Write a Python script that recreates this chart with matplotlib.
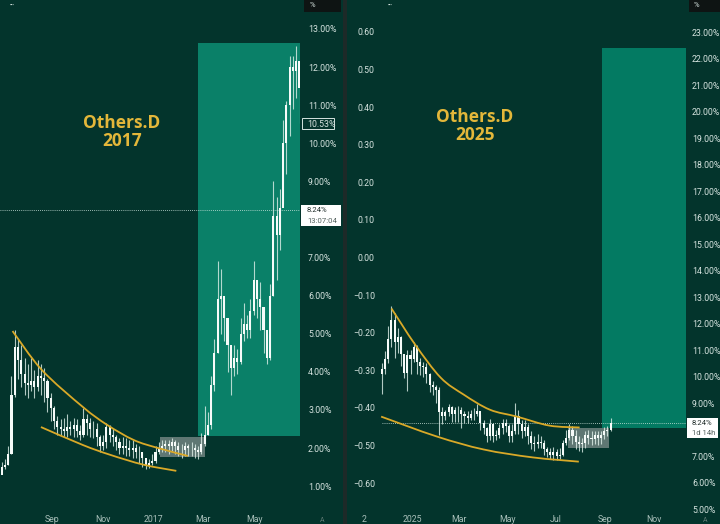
import pandas as pd
import matplotlib
matplotlib.use('Agg')
import matplotlib.dates as mdates
import matplotlib.pyplot as plt
from matplotlib.patches import PathPatch, Rectangle
from matplotlib.path import Path

W, H = 720, 524
BG = '#03342c'
YELLOW = '#d9a928'
TXT = '#d5e3df'
plt.rcParams['font.family'] = ['Roboto', 'DejaVu Sans']

# 2016/17 candles, in %
closes_2017 = [1.50, 1.55, 1.85, 3.40, 4.65, 4.30, 3.95, 3.70, 3.65, 3.75,
               3.60, 3.90, 3.85, 3.75, 3.30, 3.05, 2.70, 2.55, 2.50, 2.45,
               2.55, 2.50, 2.60, 2.45, 2.35, 2.75, 2.65, 2.50, 2.50, 2.30,
               2.05, 2.15, 2.55, 2.35, 2.30, 2.15, 2.00, 2.05, 2.00, 1.95,
               2.00, 1.90, 1.90, 1.75, 1.55, 1.60, 1.65, 1.90, 2.00, 2.05,
               2.10, 2.05, 2.15, 2.05, 1.95, 1.95, 2.05, 2.00, 2.00, 1.95,
               1.90, 2.10, 2.35, 2.60, 3.65, 4.50, 5.90, 6.00, 5.40, 4.70,
               4.10, 4.35, 4.25, 5.00, 5.25, 5.10, 5.60, 6.40, 5.90, 5.70,
               5.10, 4.35, 6.00, 8.10, 7.60, 8.30, 10.00, 11.00, 12.00, 11.90,
               12.15, 11.45]
highs_2017 = [1.62, 1.70, 2.05, 3.90, 5.10, 4.85, 4.70, 4.35, 4.20, 4.35,
              4.05, 4.30, 4.20, 4.10, 3.80, 3.45, 3.10, 2.85, 2.75, 2.80,
              2.90, 2.70, 2.80, 2.75, 2.60, 3.05, 2.90, 2.80, 2.70, 2.65,
              2.35, 2.35, 2.65, 2.60, 2.50, 2.35, 2.25, 2.30, 2.25, 2.20,
              2.20, 2.10, 2.05, 1.90, 1.70, 1.72, 1.85, 2.05, 2.15, 2.20,
              2.20, 2.20, 2.25, 2.20, 2.15, 2.10, 2.15, 2.10, 2.15, 2.10,
              2.05, 2.40, 3.10, 2.95, 3.90, 4.85, 6.90, 6.70, 5.95, 5.10,
              4.60, 4.70, 4.60, 5.40, 5.80, 5.50, 5.90, 6.90, 6.40, 6.35,
              5.70, 5.00, 6.30, 9.00, 8.60, 8.80, 10.60, 11.10, 12.30, 12.30,
              12.55, 12.10]
lows_2017 = [1.42, 1.45, 1.55, 1.85, 3.35, 3.80, 3.60, 3.40, 3.30, 3.50,
             3.30, 3.50, 3.40, 3.20, 2.95, 2.70, 2.50, 2.35, 2.35, 2.30,
             2.30, 2.35, 2.30, 2.30, 2.20, 2.30, 2.35, 2.30, 2.25, 2.05,
             1.90, 1.95, 2.00, 2.15, 2.05, 1.95, 1.85, 1.85, 1.80, 1.80,
             1.75, 1.75, 1.60, 1.50, 1.45, 1.48, 1.55, 1.60, 1.85, 1.90,
             1.90, 1.85, 1.90, 1.85, 1.80, 1.75, 1.80, 1.80, 1.80, 1.75,
             1.72, 1.85, 2.05, 2.35, 2.50, 3.50, 4.50, 5.00, 4.80, 4.00,
             3.40, 3.90, 3.95, 4.20, 4.80, 4.90, 4.90, 5.50, 5.40, 5.10,
             4.50, 4.20, 4.30, 6.00, 6.40, 7.20, 8.40, 9.20, 10.20, 10.90,
             11.20, 10.53]

# 2024/25 candles, in %
closes_2025 = [10.30, 10.65, 11.40, 12.15, 11.30, 11.50, 10.85, 10.15, 10.80, 10.65,
               11.10, 10.55, 10.40, 10.35, 10.10, 9.70, 9.60, 9.50, 8.65, 8.50,
               8.65, 8.85, 8.60, 8.75, 8.75, 8.60, 8.50, 8.45, 8.60, 8.60,
               8.70, 8.25, 8.05, 7.75, 8.20, 7.75, 7.80, 8.05, 8.25, 8.15,
               7.75, 7.95, 8.50, 8.20, 7.95, 8.10, 7.75, 7.50, 7.45, 7.55,
               7.50, 7.25, 7.15, 7.05, 7.15, 7.00, 7.05, 7.50, 7.70, 8.00,
               7.75, 7.55, 7.45, 7.50, 7.80, 7.70, 7.65, 7.80, 7.70, 7.80,
               7.95, 8.00, 8.24]
highs_2025 = [10.50, 10.95, 11.90, 12.65, 12.40, 11.85, 11.55, 10.80, 11.00, 11.00,
              11.30, 11.20, 10.70, 10.55, 10.50, 10.15, 9.85, 9.70, 9.60, 8.85,
              8.75, 8.95, 8.90, 8.85, 8.90, 8.85, 8.70, 8.70, 8.75, 8.80,
              8.95, 8.60, 8.35, 8.10, 8.40, 8.25, 8.00, 8.20, 8.40, 8.40,
              8.20, 8.20, 9.00, 8.75, 8.35, 8.35, 8.20, 7.95, 7.75, 7.85,
              7.75, 7.60, 7.35, 7.30, 7.35, 7.25, 7.30, 7.60, 8.00, 8.20,
              8.15, 8.00, 7.75, 7.70, 7.95, 8.00, 7.95, 7.95, 7.95, 7.95,
              8.10, 8.15, 8.45]
lows_2025 = [9.35, 10.10, 10.50, 11.10, 10.70, 10.90, 10.40, 9.95, 9.45, 10.10,
             10.55, 10.10, 10.05, 10.00, 9.75, 9.40, 9.30, 9.00, 7.80, 8.20,
             8.35, 8.50, 8.30, 8.30, 8.30, 8.05, 8.25, 8.25, 8.35, 8.35,
             8.50, 8.00, 7.85, 7.55, 7.60, 7.55, 7.60, 7.70, 7.85, 7.90,
             7.55, 7.55, 7.85, 7.85, 7.70, 7.75, 7.45, 7.25, 7.20, 7.30,
             7.30, 7.05, 6.95, 6.90, 6.85, 6.85, 6.90, 7.00, 7.40, 7.60,
             7.45, 7.25, 7.20, 7.15, 7.30, 7.45, 7.40, 7.45, 7.40, 7.45,
             7.65, 7.75, 7.95]

# drawn trend lines
upper_2017_dates = ['2016-07-16', '2016-08-20', '2016-10-08', '2016-11-06', '2016-12-08', '2017-01-06', '2017-02-11']
upper_2017_vals = [5.07, 4.05, 3.08, 2.61, 2.21, 2.00, 1.79]
lower_2017_dates = ['2016-08-19', '2016-10-08', '2016-11-10', '2016-12-20', '2017-01-28']
lower_2017_vals = [2.55, 2.08, 1.82, 1.56, 1.40]
upper_2025_dates = ['2024-12-06', '2025-01-05', '2025-02-06', '2025-03-07', '2025-04-09', '2025-05-13', '2025-06-23', '2025-07-31']
upper_2025_vals = [12.57, 11.20, 9.96, 9.32, 8.75, 8.49, 8.15, 8.08]
lower_2025_dates = ['2024-11-23', '2025-02-01', '2025-04-01', '2025-06-02', '2025-07-30']
lower_2025_vals = [8.49, 7.74, 7.25, 6.95, 6.79]

month_ticks_2017 = ['2016-09-01', '2016-11-01', '2017-01-01', '2017-03-01', '2017-05-01']
month_labels_2017 = ['Sep', 'Nov', '2017', 'Mar', 'May']
month_ticks_2025 = ['2024-11-01', '2025-01-01', '2025-03-01', '2025-05-01', '2025-07-01', '2025-09-01', '2025-11-01']
month_labels_2025 = ['2', '2025', 'Mar', 'May', 'Jul', 'Sep', 'Nov']
# 8.00% is hidden behind the price box in both panels
pct_ticks_2017 = [1, 2, 3, 4, 5, 6, 7, 9, 10, 11, 12, 13]
pct_ticks_2025 = [5, 6, 7, 9, 10, 11, 12, 13, 14, 15, 16, 17, 18, 19, 20, 21, 22, 23]
left_ticks_2025 = [0.60, 0.50, 0.40, 0.30, 0.20, 0.10, 0.00, -0.10, -0.20, -0.30, -0.40, -0.50, -0.60]


def px_axes(x0, y0, x1, y1):
    return fig.add_axes([x0 / W, 1 - y1 / H, (x1 - x0) / W, (y1 - y0) / H])


def px_box(x0, y0, x1, y1, **kw):
    fig.patches.append(Rectangle((x0 / W, 1 - y1 / H), (x1 - x0) / W, (y1 - y0) / H,
                                 transform=fig.transFigure, **kw))


def px_text(x, y, s, **kw):
    kw.setdefault('va', 'center')
    fig.text(x / W, 1 - y / H, s, **kw)


def candles(ax, dates, closes, highs, lows, width):
    opens = [closes[0] - 0.2] + closes[:-1]
    ax.vlines(dates, lows, highs, color='#dff0ea', lw=0.8, alpha=0.8, zorder=4)
    ax.bar(dates, [abs(c - o) for o, c in zip(opens, closes)],
           bottom=[min(o, c) for o, c in zip(opens, closes)],
           width=width, color='#f6fbf9', lw=0, zorder=5)


def trend(ax, dates, vals):
    # catmull-rom through the points
    xs = [mdates.date2num(pd.Timestamp(d)) for d in dates]
    pts = list(zip(xs, vals))
    verts, codes = [pts[0]], [Path.MOVETO]
    for i in range(len(pts) - 1):
        p0 = pts[max(i - 1, 0)]
        p1, p2 = pts[i], pts[i + 1]
        p3 = pts[min(i + 2, len(pts) - 1)]
        c1 = (p1[0] + (p2[0] - p0[0]) / 6, p1[1] + (p2[1] - p0[1]) / 6)
        c2 = (p2[0] - (p3[0] - p1[0]) / 6, p2[1] - (p3[1] - p1[1]) / 6)
        verts += [c1, c2, p2]
        codes += [Path.CURVE4] * 3
    ax.add_patch(PathPatch(Path(verts, codes), fill=False, edgecolor=YELLOW, lw=1.3, zorder=6))


def style(ax, month_ticks, month_labels, pct_ticks, pad):
    ax.set_facecolor('none')
    for s in ax.spines.values():
        s.set_visible(False)
    ax.set_xticks(pd.to_datetime(month_ticks))
    ax.set_xticklabels(month_labels, va='baseline')
    ax.yaxis.tick_right()
    ax.set_yticks(pct_ticks)
    ax.set_yticklabels([f'{v:.2f}%' for v in pct_ticks])
    ax.tick_params(axis='y', length=0, pad=pad, labelsize=6.3, labelcolor=TXT)
    ax.tick_params(axis='x', length=0, pad=7.5, labelsize=6.3, labelcolor='#a9c0ba')


fig = plt.figure(figsize=(W / 100, H / 100), dpi=100, facecolor=BG)
px_box(343, 0, 347, H, color='#1d2a28', lw=0)

# left panel
ax1 = px_axes(0, 0, 300, 512)
ax1.set_xlim(pd.Timestamp('2016-07-01'), pd.Timestamp('2017-06-25'))
ax1.set_ylim(0.32, 13.76)
style(ax1, month_ticks_2017, month_labels_2017, pct_ticks_2017, 5.8)
dates_2017 = pd.date_range('2016-07-03', periods=len(closes_2017), freq='94h')
ax1.fill_between(pd.to_datetime(['2017-02-23', '2017-06-25']), 2.31, 12.63, color='#0a8068', lw=0, zorder=1)
ax1.fill_between(pd.to_datetime(['2017-01-09', '2017-03-03']), 1.77, 2.30, color='#7f8f8c', alpha=0.75, lw=0, zorder=2)
candles(ax1, dates_2017, closes_2017, highs_2017, lows_2017, 2.5)
trend(ax1, upper_2017_dates, upper_2017_vals)
trend(ax1, lower_2017_dates, lower_2017_vals)
ax1.axhline(8.24, color='#cfe6df', lw=0.6, ls=(0, (1, 1.5)), zorder=3)

# right panel
ax2 = px_axes(347, 0, 686, 512)
ax2.set_xlim(pd.Timestamp('2024-10-11'), pd.Timestamp('2025-12-12'))
ax2.set_ylim(4.89, 24.21)
# the second price scale sits inside the right panel
ax2b = ax2.twinx()
style(ax2, month_ticks_2025, month_labels_2025, pct_ticks_2025, 4.3)
dates_2025 = pd.date_range('2024-11-24', periods=len(closes_2025), freq='4D')
ax2.fill_between(pd.to_datetime(['2025-08-28', '2025-12-12']), 8.07, 22.40, color='#037a62', lw=0, zorder=1)
ax2.fill_between(pd.to_datetime(['2025-07-16', '2025-09-06']), 7.30, 8.07, color='#7f8f8c', alpha=0.75, lw=0, zorder=2)
candles(ax2, dates_2025, closes_2025, highs_2025, lows_2025, 2.6)
trend(ax2, upper_2025_dates, upper_2025_vals)
trend(ax2, lower_2025_dates, lower_2025_vals)
ax2.hlines(8.24, dates_2025[0], pd.Timestamp('2025-12-12'), color='#cfe6df', lw=0.6, ls=(0, (1, 1.5)), zorder=3)

ax2b.set_ylim(-0.677, 0.685)
for s in ax2b.spines.values():
    s.set_visible(False)
ax2b.yaxis.tick_left()
ax2b.set_yticks(left_ticks_2025)
ax2b.set_yticklabels([f'{v:.2f}'.replace('-', '\u2212') for v in left_ticks_2025])
ax2b.tick_params(axis='y', length=0, pad=-20, labelsize=6.3, labelcolor=TXT)

# titles
px_text(122, 132.5, 'Others.D\n2017', color='#e3b73a', fontsize=12.5, weight='bold',
        family='Open Sans', ha='center', linespacing=1.0)
px_text(475, 126, 'Others.D\n2025', color='#e3b73a', fontsize=12.5, weight='bold',
        family='Open Sans', ha='center', linespacing=1.0)

# chart chrome
for x0, x1 in [(304, 341), (689, 720)]:
    px_box(x0, 0, x1, 12, color='#0e1413', lw=0)
px_text(310, 5, '%', color=TXT, fontsize=5.5)
px_text(694, 5, '%', color=TXT, fontsize=5.5)
px_text(12, 5, '\u2022\u2022\u2022', color=TXT, fontsize=3.5, ha='center')
px_text(390, 5, '\u2022\u2022\u2022', color=TXT, fontsize=3.5, ha='center')
px_text(322, 520, 'A', color='#5f7a74', fontsize=5, ha='center')
px_text(705, 520, 'A', color='#5f7a74', fontsize=5, ha='center')

px_box(301.5, 118.5, 334, 129, facecolor=BG, edgecolor='#d5e3df', lw=0.7, zorder=7)
px_text(307, 124, '10.53%', color=TXT, fontsize=6.3, zorder=8)
px_box(301, 205, 341, 226, color='white', lw=0, zorder=7)
px_text(307, 210, '8.24%', color='#24302e', fontsize=5.6, zorder=8)
px_text(307, 220.5, '13:07:04', color='#55625f', fontsize=5.6, zorder=8)
px_box(687, 418, 718, 438, color='white', lw=0, zorder=7)
px_text(692, 423, '8.24%', color='#24302e', fontsize=5.6, zorder=8)
px_text(692, 433, '1d 14h', color='#55625f', fontsize=5.6, zorder=8)

fig.savefig('out.png', dpi=100, facecolor=BG)
